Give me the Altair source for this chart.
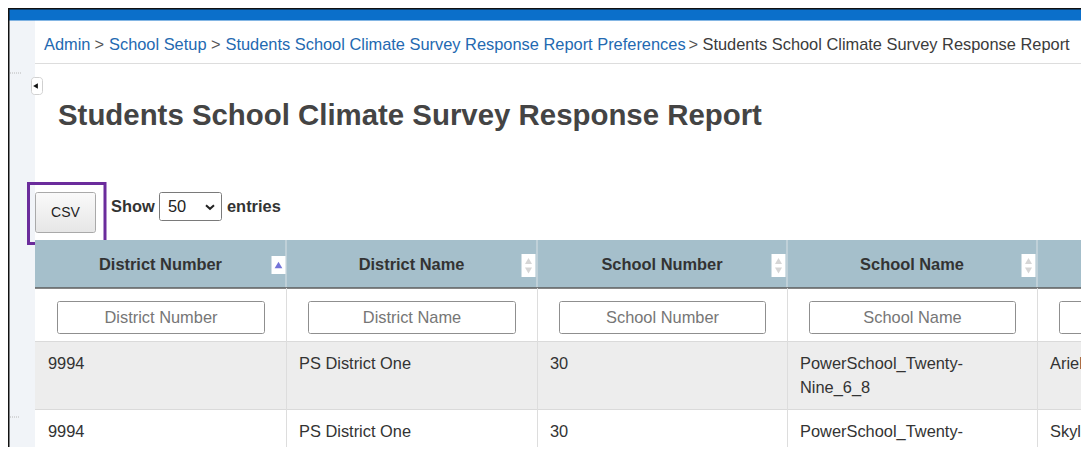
import altair as alt
import pandas as pd

# ---------------- content ----------------
crumb_links = ["Admin", "School Setup",
               "Students School Climate Survey Response Report Preferences"]
crumb_current = "Students School Climate Survey Response Report"
crumb_sep = ">"
page_title = "Students School Climate Survey Response Report"
csv_label = "CSV"
show_label = "Show"
entries_label = "entries"
page_size = "50"
col_headers = ["District Number", "District Name", "School Number", "School Name", ""]
filter_placeholders = ["District Number", "District Name", "School Number", "School Name", ""]
row_district_number = ["9994", "9994"]
row_district_name = ["PS District One", "PS District One"]
row_school_number = ["30", "30"]
row_school_name = ["PowerSchool_Twenty-\nNine_6_8", "PowerSchool_Twenty-\nNine_6_8"]
row_student = ["Ariella", "Skyla"]
sorted_col = 0

# ---------------- layout (page pixels) ----------------
FONT = "Liberation Sans"
FS = 16.4
# the page keeps an 8px margin on every side, so the drawable area is 8..1081 x 8..447
X0, X1, Y0, Y1 = 8, 1081, 8, 447
crumb_x = [44, 109, 225.5, 702.5]
sep_x = [94.5, 211, 688.5]
col_edges = [35, 286, 537, 787, 1037, 1288]
HEAD = (240, 288)
FILT = (288, 341)
ROWS = [(341, 409), (409, 477)]

xs = alt.Scale(domain=[X0, X1], nice=False, zero=False)
ys = alt.Scale(domain=[Y0, Y1], nice=False, zero=False, reverse=True)
X = alt.X("x:Q", scale=xs, axis=None)
Y = alt.Y("y:Q", scale=ys, axis=None)


def rects(rows, **mark):
    df = pd.DataFrame(rows, columns=["x", "x2", "y", "y2"])
    return alt.Chart(df).mark_rect(**mark).encode(x=X, x2="x2:Q", y=Y, y2="y2:Q")


def rules(rows, **mark):
    df = pd.DataFrame(rows, columns=["x", "x2", "y", "y2"])
    return alt.Chart(df).mark_rule(**mark).encode(x=X, x2="x2:Q", y=Y, y2="y2:Q")


def texts(rows, size=FS, weight="normal", align="left", color="#333333", baseline="middle"):
    df = pd.DataFrame(rows, columns=["x", "y", "t"])
    return alt.Chart(df).mark_text(
        align=align, baseline=baseline, fontSize=size, fontWeight=weight,
        font=FONT, color=color
    ).encode(x=X, y=Y, text="t:N")


def points(rows, **mark):
    df = pd.DataFrame(rows, columns=["x", "y"])
    return alt.Chart(df).mark_point(**mark).encode(x=X, y=Y)


layers = []
# page background + sidebar + top bar
layers.append(rects([(X0, X1, Y0, Y1)], color="#ffffff"))
layers.append(rects([(X0, 35, 20, Y1)], color="#f1f4f8"))
layers.append(rects([(X0, X1, 9, 20.5)], color="#0b6fca"))
layers.append(rules([(X0, X1, 8.5, 8.5)], color="#111111", strokeWidth=2))
layers.append(rules([(8.5, 8.5, Y0, Y1)], color="#111111", strokeWidth=2))
layers.append(rules([(10, 21, 73, 73), (10, 20, 417, 417)], color="#b8b8b8",
                    strokeWidth=1, strokeDash=[1, 1]))
# collapse button
layers.append(rects([(31.5, 42.5, 77.5, 94.5)], color="#ffffff", stroke="#d0d0d0",
                    strokeWidth=1, cornerRadius=3))
layers.append(points([(35.5, 86)], shape="triangle-left", filled=True, color="#111111",
                     size=30, opacity=1))

# breadcrumb
crumb_rows = [(crumb_x[i], 44.5, t) for i, t in enumerate(crumb_links)]
layers.append(texts(crumb_rows, color="#2369b1"))
layers.append(texts([(x, 44.5, crumb_sep) for x in sep_x], color="#555555"))
layers.append(texts([(crumb_x[3], 44.5, crumb_current)], color="#3b3b3b"))
layers.append(rules([(35, X1, 63.5, 63.5)], color="#dddddd", strokeWidth=1))

# title
layers.append(texts([(58, 116, page_title)], size=29.4, weight="bold", color="#444444"))

# CSV button with highlight box
layers.append(rects([(35.5, 95.5, 192.5, 232.5)],
                    fill=alt.LinearGradient(gradient="linear",
                                            stops=[alt.GradientStop(color="#fafafa", offset=0),
                                                   alt.GradientStop(color="#e6e6e6", offset=1)],
                                            x1=0, x2=0, y1=0, y2=1),
                    stroke="#a9a9a9", strokeWidth=1, cornerRadius=2))
layers.append(texts([(65.5, 212.5, csv_label)], size=14, align="center", color="#222222"))
layers.append(rects([(28.5, 105, 183.5, 243.5)], fill=None, filled=False,
                    stroke="#6b2c9c", strokeWidth=3))

# show entries
layers.append(texts([(111, 206.5, show_label)], weight="bold", color="#333333"))
layers.append(rects([(159.5, 221.5, 192.5, 220.5)], color="#ffffff", stroke="#7a7a7a",
                    strokeWidth=1, cornerRadius=2))
layers.append(texts([(168, 206.5, page_size)], color="#222222"))
layers.append(points([(210, 207)], shape="M-1,-0.45L0,0.45L1,-0.45", filled=False,
                     color="#222222", strokeWidth=2, size=64, opacity=1))
layers.append(texts([(227, 206.5, entries_label)], weight="bold", color="#333333"))

# table header
layers.append(rects([(35, X1, HEAD[0], HEAD[1])], color="#a5bfcb"))
layers.append(rules([(e, e, HEAD[0], HEAD[1]) for e in col_edges[1:5]],
                    color="#c8d6dd", strokeWidth=1.5))
hdr_rows = [((col_edges[i] + col_edges[i + 1]) / 2, 264.5, h)
            for i, h in enumerate(col_headers) if h]
layers.append(texts(hdr_rows, weight="bold", align="center", color="#333333"))
# sort icons
icon_boxes = []
for i in range(5):
    r = col_edges[i + 1]
    if r > X1:
        continue
    if i == sorted_col:
        icon_boxes.append((r - 14.5, r - 0.5, 256, 274))
    else:
        icon_boxes.append((r - 15.5, r - 1.5, 254, 277))
layers.append(rects(icon_boxes, color="#ffffff"))
layers.append(points([(col_edges[sorted_col + 1] - 7.5, 265)], shape="triangle-up",
                     filled=True, color="#7474d8", size=60, opacity=1))
ups = [(col_edges[i + 1] - 8.5, 261) for i in range(5) if i != sorted_col and col_edges[i + 1] <= X1]
downs = [(col_edges[i + 1] - 8.5, 270.5) for i in range(5) if i != sorted_col and col_edges[i + 1] <= X1]
layers.append(points(ups, shape="triangle-up", filled=True, color="#d6d6d6", size=50, opacity=1))
layers.append(points(downs, shape="triangle-down", filled=True, color="#d6d6d6", size=50, opacity=1))
layers.append(rules([(35, X1, HEAD[1], HEAD[1])], color="#5c5c5c", strokeWidth=1.5))

# body rows background
layers.append(rects([(35, X1, ROWS[0][0], ROWS[0][1])], color="#ededed"))
layers.append(rules([(35, X1, y, y) for y in (FILT[1] + 0.5, ROWS[0][1] + 0.5)],
                    color="#dadada", strokeWidth=1.2))
layers.append(rules([(e + 0.5, e + 0.5, HEAD[1], Y1) for e in col_edges[1:5]],
                    color="#dddddd", strokeWidth=1))

# filter inputs
inputs = [(col_edges[i] + 22.5, col_edges[i + 1] - 21.5, 301.5, 333.5) for i in range(5)]
layers.append(rects(inputs, color="#ffffff", stroke="#8f8f8f", strokeWidth=1, cornerRadius=2))
ph_rows = [((col_edges[i] + col_edges[i + 1]) / 2 + 0.5, 317.5, p)
           for i, p in enumerate(filter_placeholders) if p]
layers.append(texts(ph_rows, color="#767676", align="center"))

# body text
cell_rows = []
cols = [row_district_number, row_district_name, row_school_number, row_school_name, row_student]
for ri, (top, _) in enumerate(ROWS):
    for ci, col in enumerate(cols):
        for li, line in enumerate(col[ri].split("\n")):
            cell_rows.append((col_edges[ci] + 13, top + 22.5 + 24 * li, line))
layers.append(texts(cell_rows, color="#333333"))

chart = alt.layer(*layers).properties(
    width=X1 - X0, height=Y1 - Y0, padding=0,
    autosize=alt.AutoSizeParams(type="none"),
    background="#ffffff"
).configure_view(stroke=None)

chart.save("out.html", embed_options={"renderer": "svg", "actions": False})
